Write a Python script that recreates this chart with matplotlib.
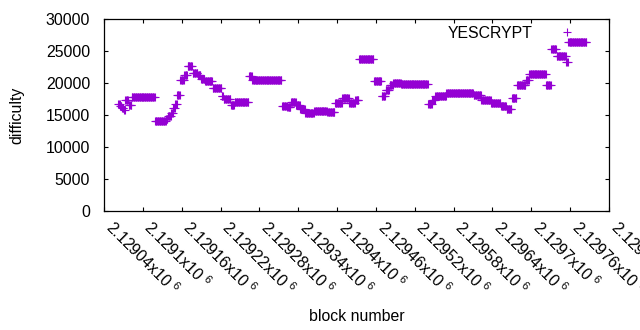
import numpy as np
import matplotlib
matplotlib.use("Agg")
import matplotlib.pyplot as plt

plt.rcParams['font.family'] = ['Liberation Sans', 'DejaVu Sans']
plt.rcParams['mathtext.default'] = 'regular'

first_block = 2129062
run_values = [16700, 16400, 16100, 15800, 17300, 16550, 17760, 14060, 14450, 14900,
              15300, 16100, 16700, 18200, 20400, 21300, 22600, 21600, 21200, 20550,
              20250, 19170, 17970, 17450, 16550, 16980, 21100, 20420, 16400, 16250,
              17030, 16560, 16000, 15300, 15620, 15470, 16950, 17580, 16870, 17420,
              23750, 20360, 17970, 18830, 19690, 20050, 19800, 16720, 17420, 17970,
              18390, 18050, 17420, 16800, 16400, 15940, 17660, 19690, 20470, 21400,
              19610, 25270, 24220, 23280, 26450]
run_lengths = [3, 3, 3, 2, 5, 5, 36, 17, 3, 5,
               3, 3, 3, 5, 6, 5, 8, 8, 5, 6,
               12, 14, 3, 11, 6, 22, 5, 46, 8, 6,
               8, 6, 8, 14, 20, 12, 11, 11, 9, 6,
               23, 12, 6, 6, 6, 12, 42, 6, 5, 17,
               42, 12, 15, 15, 9, 8, 8, 14, 5, 26,
               8, 8, 15, 3, 29]

x_ticks = [2129040, 2129100, 2129160, 2129220, 2129280, 2129340, 2129400,
           2129460, 2129520, 2129580, 2129640, 2129700, 2129760, 2129820]
x_labels = ["2.12904x10 $^{6}$", "2.1291x10 $^{6}$", "2.12916x10 $^{6}$", "2.12922x10 $^{6}$",
            "2.12928x10 $^{6}$", "2.12934x10 $^{6}$", "2.1294x10 $^{6}$", "2.12946x10 $^{6}$",
            "2.12952x10 $^{6}$", "2.12958x10 $^{6}$", "2.12964x10 $^{6}$", "2.1297x10 $^{6}$",
            "2.12976x10 $^{6}$", "2.12982x10 $^{6}$"]
y_ticks = [0, 5000, 10000, 15000, 20000, 25000, 30000]

difficulty = np.repeat(run_values, run_lengths)
blocks = first_block + np.arange(len(difficulty))

fig = plt.figure(figsize=(6.4, 3.3), dpi=100)
ax = fig.add_axes([104 / 640, 1 - 211 / 330, 505 / 640, 192 / 330])

ax.plot(blocks, difficulty, linestyle='none', marker='+', ms=5.2, mew=0.8,
        color='#9400d3', label='YESCRYPT')

ax.set_xlim(2129040, 2129820)
ax.set_ylim(0, 30000)
ax.set_yticks(y_ticks)
ax.set_xticks(x_ticks)
ax.set_xticklabels(x_labels, rotation=-45, ha='left', va='baseline', rotation_mode='anchor')
ax.tick_params(direction='in', top=True, right=True, length=3.2, width=0.8,
               labelsize=11.4, colors='black')
ax.tick_params(axis='y', pad=10)
ax.tick_params(axis='x', pad=13)
for s in ax.spines.values():
    s.set_linewidth(0.9)

ax.set_xlabel('block number', fontsize=11.4)
ax.set_ylabel('difficulty', fontsize=11.4)
ax.xaxis.set_label_coords(0.5, -0.51)
ax.yaxis.set_label_coords(-0.158, 0.5)

ax.legend(loc='upper right', bbox_to_anchor=(0.948, 0.964), markerfirst=False,
          frameon=False, handlelength=2.0, handletextpad=1.15, borderpad=0,
          borderaxespad=0, fontsize=11.4)

fig.savefig('out.png', dpi=100)
